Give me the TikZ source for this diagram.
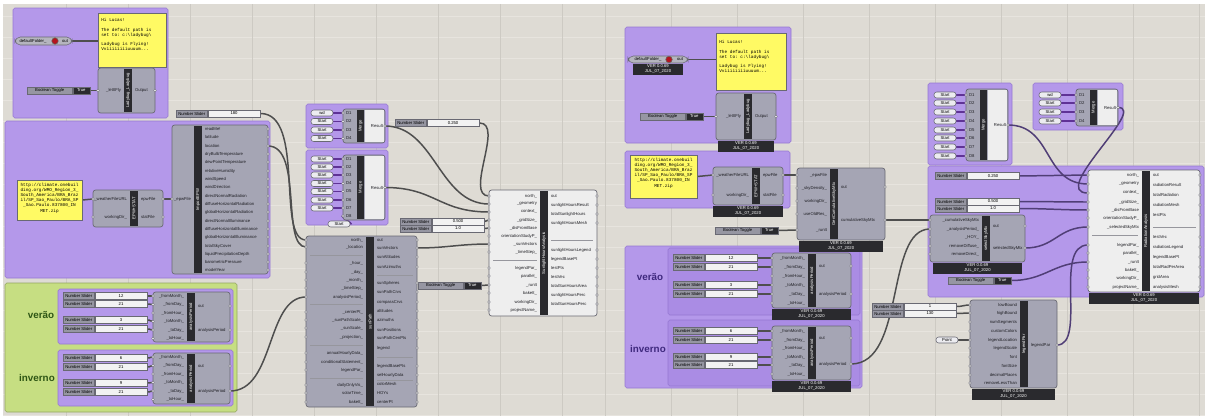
\documentclass[tikz,border=0pt]{standalone}
\usepackage{fontspec}
\setmainfont{Liberation Sans}
\setmonofont{Liberation Mono}
\usepackage{xcolor}
\definecolor{CanvasBg}{RGB}{222,219,212}
\definecolor{GridLine}{RGB}{205,202,195}
\definecolor{GridMinor}{RGB}{231,228,222}
\definecolor{GroupPurple}{RGB}{180,152,234}
\definecolor{GroupPurpleDeep}{RGB}{170,140,228}
\definecolor{GroupEdge}{RGB}{150,120,210}
\definecolor{GroupGreen}{RGB}{198,222,130}
\definecolor{CompGray}{RGB}{165,165,180}
\definecolor{CompEdge}{RGB}{105,105,115}
\definecolor{CompWhite}{RGB}{238,238,238}
\definecolor{BarBlack}{RGB}{42,42,46}
\definecolor{PanelYellow}{RGB}{255,250,100}
\definecolor{PanelWhite}{RGB}{236,236,240}
\definecolor{SliderGray}{RGB}{150,150,162}
\definecolor{SliderWhite}{RGB}{242,242,242}
\definecolor{TextDark}{RGB}{30,30,35}
\definecolor{WireGray}{RGB}{78,78,78}
\definecolor{WirePurple}{RGB}{95,50,150}
\definecolor{WireDark}{RGB}{80,62,118}
\definecolor{LabelGreen}{RGB}{45,85,20}
\definecolor{LabelPurple}{RGB}{62,40,125}
\definecolor{DotRed}{RGB}{180,20,30}
\usepackage{tikz}
\usetikzlibrary{positioning, fit, calc, backgrounds}
\pgfdeclarelayer{canvas}
\pgfdeclarelayer{wires}
\pgfsetlayers{canvas,wires,main}
\tikzset{
  % text size of the canvas
  tinyf/.style={font=\fontsize{2.4pt}{2.8pt}\selectfont},
  % groups
  grp/.style={fill=GroupPurple, draw=GroupEdge, line width=0.3pt, inner sep=0pt, rounded corners=1pt},
  grp deep/.style={grp, fill=GroupPurpleDeep},
  grp green/.style={grp, fill=GroupGreen, draw=GroupGreen!75!black},
  % components
  comp/.style={fill=CompGray, draw=CompEdge, line width=0.4pt, rounded corners=1.5pt, inner sep=0pt},
  comp white/.style={comp, fill=CompWhite},
  compbar/.style={fill=BarBlack, inner sep=0pt},
  bartext/.style={tinyf, text=white, rotate=90, inner sep=0pt},
  inlab/.style={tinyf, anchor=east, inner sep=0.4pt, text=TextDark},
  outlab/.style={tinyf, anchor=west, inner sep=0.4pt, text=TextDark},
  port/.style={draw=CompEdge, fill=white, line width=0.25pt},
  sepline/.style={draw=CompEdge!70, line width=0.3pt},
  % params
  sliderlab/.style={tinyf, fill=SliderGray, draw=CompEdge, line width=0.3pt, minimum width=0.62cm, minimum height=0.14cm, inner sep=0pt},
  sliderval/.style={tinyf, fill=SliderWhite, draw=CompEdge, line width=0.3pt, minimum width=1.05cm, minimum height=0.14cm, inner sep=0pt},
  togglelab/.style={sliderlab, minimum width=0.9cm},
  toggleval/.style={tinyf, fill=BarBlack, text=white, draw=CompEdge, line width=0.3pt, minimum width=0.34cm, minimum height=0.14cm, inner sep=0pt},
  minipanel/.style={tinyf, fill=PanelWhite, draw=CompEdge, line width=0.3pt, rounded corners=1.5pt, minimum width=0.44cm, minimum height=0.12cm, inner sep=0pt},
  ypanel/.style={fill=PanelYellow, draw=CompEdge, line width=0.4pt, inner sep=0pt},
  ptext/.style={font=\ttfamily\fontsize{2.5pt}{2.9pt}\selectfont, align=left, inner sep=0pt, anchor=north west},
  paramcap/.style={fill=SliderGray!70!white, draw=CompEdge, line width=0.3pt, rounded corners=3pt, inner sep=0pt},
  reddot/.style={circle, fill=DotRed, draw=black!60, line width=0.3pt, minimum size=0.13cm, inner sep=0pt},
  verstrip/.style={tinyf, fill=BarBlack, text=white, align=center, minimum height=0.22cm, inner sep=0.3pt},
  seasonlab/.style={font=\bfseries\fontsize{5.6pt}{6pt}\selectfont, inner sep=0pt},
  % wires
  wire/.style={draw=WireGray, line width=0.85pt},
  rwire/.style={draw=WireDark, line width=0.85pt},
  pwire/.style={draw=WirePurple, line width=0.9pt},
  gridmaj/.style={draw=GridLine, line width=0.35pt},
  gridmin/.style={draw=GridMinor, line width=0.3pt},
}
% slider: name, x, y, value
\newcommand{\ghslider}[4]{%
  \node[sliderlab, anchor=west] (#1-lab) at (#2,#3) {Number Slider};
  \node[sliderval, right=0pt of #1-lab] (#1) {#4};
}
% toggle: name, x, y
\newcommand{\ghtoggle}[3]{%
  \node[togglelab, anchor=west] (#1-lab) at (#2,#3) {Boolean Toggle};
  \node[toggleval, right=0pt of #1-lab] (#1) {True};
}
% component body: name, style, x1, y1, x2, y2, bar x, title
\newcommand{\ghcomp}[8]{%
  \node[#2, fit={(#3,#4) (#5,#6)}] (#1) {};
  \node[compbar, fit={(#7,#4+1) (#7+8,#6-1)}] (#1-bar) {};
  \node[bartext] (#1-title) at (#1-bar.center) {#8};
}
% inputs / outputs: name, port x, label x, list y/label
\newcommand{\ghins}[4]{%
  \foreach \yy/\lb [count=\kk] in {#4} {
    \node[inlab] (#1-il\kk) at (#3,\yy) {\lb};
    \coordinate (#1-i\kk) at (#2,\yy);
    \draw[port] (#1-i\kk) circle (0.028cm);
  }
}
\newcommand{\ghouts}[4]{%
  \foreach \yy/\lb [count=\kk] in {#4} {
    \node[outlab] (#1-ol\kk) at (#3,\yy) {\lb};
    \coordinate (#1-o\kk) at (#2,\yy);
    \draw[port] (#1-o\kk) circle (0.028cm);
  }
}
% merge: name, x1, y1, y2, rows
\newcommand{\ghmerge}[5]{%
  \node[comp, fit={(#2,#3) (#2+42,#4)}] (#1) {};
  \fill[CompWhite] (#2+22,#3+0.6) rectangle (#2+41.4,#4-0.6);
  \node[compbar, fit={(#2+14,#3+1) (#2+21,#4-1)}] (#1-bar) {};
  \node[bartext] (#1-title) at (#1-bar.center) {Merge};
  \foreach \yy [count=\kk] in {#5} {
    \node[outlab] (#1-il\kk) at (#2+2,\yy) {D\kk};
    \coordinate (#1-i\kk) at (#2,\yy);
    \draw[port] (#1-i\kk) circle (0.028cm);
  }
  \node[inlab] (#1-ol1) at (#2+41,{(#3+#4)/2}) {Result};
  \coordinate (#1-o1) at (#2+42,{(#3+#4)/2});
  \draw[port] (#1-o1) circle (0.028cm);
}
% version strip under a component
\newcommand{\ghver}[2]{%
  \node[verstrip, minimum width=#2, below=0pt of #1] (#1-ver) {VER 0.0.69\\JUL\_07\_2020};
}

\begin{document}
\begin{tikzpicture}[x=0.02cm, y=-0.02cm]
\useasboundingbox (0,0) rectangle (1205,416);

\begin{pgfonlayer}{canvas}
  \fill[CanvasBg] (0,0) rectangle (1205,416);
  \foreach \gy in {16,37,...,416} \draw[gridmin] (0,\gy) -- (1205,\gy);
  \foreach \gx in {66,128,...,600} \draw[gridmaj] (\gx,0) -- (\gx,416);
  \foreach \gx in {605,671,...,1205} \draw[gridmaj] (\gx,0) -- (\gx,416);
  \fill[white] (0,0) rectangle (1205,4);
  \fill[white] (0,0) rectangle (3,416);
  % groups, left
  \node[grp, fit={(13,8) (168,118)}] (grpLbA) {};
  \node[grp, fit={(5,121) (270,278)}] (grpEpwA) {};
  \node[grp green, fit={(5,283) (237,412)}] (grpSeasonA) {};
  \node[grp, fit={(58,289) (233,344)}] (grpVeraoA) {};
  \node[grp, fit={(58,350) (233,406)}] (grpInvernoA) {};
  \node[grp, fit={(306,104) (388,148)}] (grpMrgA) {};
  \node[grp, fit={(306,150) (388,225)}] (grpMrgB) {};
  % groups, right
  \node[grp, fit={(625,27) (791,143)}] (grpLbB) {};
  \node[grp, fit={(625,151) (790,208)}] (grpEpwB) {};
  \node[grp, fit={(625,246) (862,388)}] (grpSeasonB) {};
  \node[grp deep, fit={(668,248) (860,315)}] (grpVeraoB) {};
  \node[grp deep, fit={(668,320) (860,386)}] (grpInvernoB) {};
  \node[grp, fit={(928,83) (1012,165)}] (grpMrgC) {};
  \node[grp, fit={(1033,83) (1123,130)}] (grpMrgD) {};
  \node[grp, fit={(928,166) (1204,297)}] (grpRad) {};
\end{pgfonlayer}

% ================= left half =================
\node[paramcap, fit={(15,37) (72,45)}] (dfA) {};
\node[tinyf] (dfA-lab) at (33,41) {defaultFolder\_};
\node[reddot] (dfA-dot) at (55,41) {};
\node[tinyf] (dfA-out) at (65,41) {out};
\node[ypanel, fit={(98,13) (166,67)}] (hiA) {};
\node[ptext] (hiA-txt) at (101,18) {Hi Lucas!\\[2.5pt]The default path is\\set to: c:\textbackslash ladybug\textbackslash\\[2.5pt]Ladybug is Flying!\\Vviiiiiiiiuuuum...};
\ghtoggle{tgA}{27}{90.5}
\ghcomp{lbA}{comp}{98}{68}{155}{113}{124}{Ladybug\_Ladybug}
\ghins{lbA}{98}{122}{90.5/\_letItFly}
\ghouts{lbA}{155}{134}{90.5/Output}

\ghslider{slA1}{176}{113.5}{180}

\node[ypanel, fit={(17,180) (82,220)}] (urlA) {};
\node[ptext, align=center, anchor=north] (urlA-txt) at (49.5,183) {http://climate.onebuil\\ding.org/WMO\_Region\_3\_\\South\_America/BRA\_Braz\\il/SP\_Sao\_Paulo/BRA\_SP\\\_Sao.Paulo.837800\_IN\\MET.zip};
\ghcomp{epwA}{comp}{93}{190}{163}{227}{130}{EPW+STAT}
\ghins{epwA}{93}{128}{199/\_weatherFileURL, 217/workingDir\_}
\ghouts{epwA}{163}{140}{199/epwFile, 217/statFile}
\ghcomp{impA}{comp}{172}{125}{268}{274}{194}{ImportEPW}
\ghins{impA}{172}{192}{199/\_epwFile}
\ghouts{impA}{268}{204}{129/readMe!, 137/latitude, 146/location, 154/dryBulbTemperature, 162/dewPointTemperature, 171/relativeHumidity, 179/windSpeed, 187/windDirection, 196/directNormalRadiation, 204/diffuseHorizontalRadiation, 212/globalHorizontalRadiation, 221/directNormalIlluminance, 229/diffuseHorizontalIlluminance, 237/globalHorizontalIlluminance, 246/totalSkyCover, 254/liquidPrecipitationDepth, 262/barometricPressure, 270/modelYear}

% seasons, left
\node[seasonlab, text=LabelGreen] (lbVeraoA) at (41,315) {verão};
\node[seasonlab, text=LabelGreen] (lbInvernoA) at (37,378) {inverno};
\ghslider{svA1}{63}{296}{12}
\ghslider{svA2}{63}{304}{21}
\ghslider{svA3}{63}{320}{3}
\ghslider{svA4}{63}{329}{21}
\ghcomp{anpVA}{comp}{153}{292}{230}{342}{187}{analysisPeriod}
\ghins{anpVA}{153}{185}{296/\_fromMonth\_, 304.5/\_fromDay\_, 313/\_fromHour\_, 321.5/\_toMonth\_, 330/\_toDay\_, 338.5/\_toHour\_}
\ghouts{anpVA}{230}{197}{306/out, 330/analysisPeriod}
\ghslider{siA1}{63}{358}{6}
\ghslider{siA2}{63}{367}{21}
\ghslider{siA3}{63}{383}{9}
\ghslider{siA4}{63}{392}{21}
\ghcomp{anpIA}{comp}{153}{353}{230}{404}{187}{analysisPeriod}
\ghins{anpIA}{153}{185}{357/\_fromMonth\_, 365.5/\_fromDay\_, 374/\_fromHour\_, 382.5/\_toMonth\_, 391/\_toDay\_, 399.5/\_toHour\_}
\ghouts{anpIA}{230}{197}{366/out, 391/analysisPeriod}

% merges, left
\foreach \yy/\lb [count=\kk] in {113/wd, 121.5/Start, 130/Start, 138.5/Start}
  \node[minipanel] (pnA\kk) at (322,\yy) {\lb};
\ghmerge{mrgA}{343}{109}{143}{113,121.5,130,138.5}
\foreach \yy [count=\kk] in {159,167,175,183.5,191.5,200,208}
  \node[minipanel] (pnB\kk) at (322,\yy) {Start};
\node[minipanel] (pnB8) at (339,224) {Start};
\ghmerge{mrgB}{343}{155}{220}{159,167,175,183.5,191.5,200,208,216}

\ghslider{slA2}{395}{123}{0.250}
\ghslider{slA3}{400}{221.5}{0.500}
\ghslider{slA4}{400}{228.5}{1.0}
\ghtoggle{tgA2}{418}{285.5}

\ghcomp{spA}{comp}{306}{236}{417}{407}{366}{sunPath}
\ghins{spA}{306}{364}{240/north\_, 247/\_location, 263/\_hour\_, 272/\_day\_, 280/\_month\_, 288/\_timeStep\_, 297/analysisPeriod\_, 312/\_centerPt\_, 320/\_sunPathScale\_, 328/\_sunScale\_, 337/\_projection\_, 353/annualHourlyData\_, 362/conditionalStatement\_, 370/legendPar\_, 385/dailyOnlyVis\_, 393/solarTime\_, 402/bakeIt\_}
\ghouts{spA}{417}{376}{240/out, 248/sunVectors, 257/sunAltitudes, 267/sunAzimuths, 283/sunSpheres, 292/sunPathCrvs, 302/compassCrvs, 311/altitudes, 320/azimuths, 330/sunPositions, 338/sunPathCenPts, 348/legend, 366/legendBasePts, 375/selHourlyData, 384/colorMesh, 393/HOYs, 402/centerPt}
\foreach \yy in {255,304,345,378} \draw[sepline] (310,\yy) -- (363,\yy);
\foreach \yy in {275,357,380} \draw[sepline] (377,\yy) -- (413,\yy);

\ghcomp{shA}{comp white}{489}{190}{597}{316}{540}{SunlightHoursAnalysis}
\ghins{shA}{489}{538}{196/north\_, 204/\_geometry, 212/context\_, 220/\_gridSize\_, 228/\_disFromBase, 236/orientationStudyP\_, 244/\_sunVectors, 252/\_timeStep\_, 268/legendPar\_, 276/parallel\_, 285/\_runIt, 293/bakeIt\_, 302/workingDir\_, 310/projectName\_}
\ghouts{shA}{597}{550}{196/out, 205/sunlightHoursResult, 214/totalSunlightHours, 223/sunlightHoursMesh, 250/sunlightHoursLegend, 259/legendBasePt, 268/testPts, 277/testVec, 286/totalSunHoursArea, 295/sunlightHoursPerc, 304/totalSunHoursPerc}
\draw[sepline] (493,260) -- (537,260);
\draw[sepline] (551,240) -- (593,240);

% ================= right half =================
\node[paramcap, fit={(628,56) (688,63)}] (dfB) {};
\node[tinyf] (dfB-lab) at (648,59.5) {defaultFolder\_};
\node[reddot] (dfB-dot) at (669,59.5) {};
\node[tinyf] (dfB-out) at (680,59.5) {out};
\ghver{dfB}{1.0cm}
\node[ypanel, fit={(716,33) (786,90)}] (hiB) {};
\node[ptext] (hiB-txt) at (719,40) {Hi Lucas!\\[2.5pt]The default path is\\set to: c:\textbackslash ladybug\textbackslash\\[2.5pt]Ladybug is Flying!\\Vviiiiiiiiuuuum...};
\ghtoggle{tgB}{640}{116.5}
\ghcomp{lbB}{comp}{716}{93}{776}{140}{744}{Ladybug\_Ladybug}
\ghins{lbB}{716}{742}{116.5/\_letItFly}
\ghouts{lbB}{776}{754}{116.5/Output}
\ghver{lbB}{1.12cm}

\node[ypanel, fit={(630,155) (697,198)}] (urlB) {};
\node[ptext, align=center, anchor=north] (urlB-txt) at (663.5,158) {http://climate.onebuil\\ding.org/WMO\_Region\_3\_\\South\_America/BRA\_Braz\\il/SP\_Sao\_Paulo/BRA\_SP\\\_Sao.Paulo.837800\_IN\\MET.zip};
\ghcomp{epwB}{comp}{713}{167}{783}{205}{752}{EPW+STAT}
\ghins{epwB}{713}{750}{175/\_weatherFileURL, 195/workingDir\_}
\ghouts{epwB}{783}{762}{175/epwFile, 195/statFile}
\ghver{epwB}{1.4cm}

\ghcomp{gcs}{comp}{797}{168}{885}{240}{830}{GenCumulativeSkyMtx}
\ghins{gcs}{797}{828}{175/\_epwFile, 188/\_skyDensity\_, 201/workingDir\_, 214/useOldRes\_, 230/\_runIt}
\ghouts{gcs}{885}{840}{187/out, 220/cumulativeSkyMtx}
\ghver{gcs}{1.7cm}
\ghtoggle{tgC}{715}{230.5}

% seasons, right
\node[seasonlab, text=LabelPurple] (lbVeraoB) at (650,277) {verão};
\node[seasonlab, text=LabelPurple] (lbInvernoB) at (648,349) {inverno};
\ghslider{svB1}{673}{258}{12}
\ghslider{svB2}{673}{267}{21}
\ghslider{svB3}{673}{285}{3}
\ghslider{svB4}{673}{294}{21}
\ghcomp{anpVB}{comp}{772}{253}{851}{308}{808}{analysisPeriod}
\ghins{anpVB}{772}{806}{258/\_fromMonth\_, 267/\_fromDay\_, 276/\_fromHour\_, 285/\_toMonth\_, 294/\_toDay\_, 303/\_toHour\_}
\ghouts{anpVB}{851}{818}{266/out, 294/analysisPeriod}
\ghver{anpVB}{1.58cm}
\ghslider{siB1}{673}{331}{6}
\ghslider{siB2}{673}{340}{21}
\ghslider{siB3}{673}{357}{9}
\ghslider{siB4}{673}{365}{21}
\ghcomp{anpIB}{comp}{772}{326}{851}{380}{808}{analysisPeriod}
\ghins{anpIB}{772}{806}{331/\_fromMonth\_, 340/\_fromDay\_, 348/\_fromHour\_, 357/\_toMonth\_, 365/\_toDay\_, 374/\_toHour\_}
\ghouts{anpIB}{851}{818}{338/out, 364/analysisPeriod}
\ghver{anpIB}{1.58cm}

% merges, right
\foreach \yy [count=\kk] in {95,103,112,121,130,138,147,156}
  \node[minipanel] (pnC\kk) at (945,\yy) {Start};
\ghmerge{mrgC}{966}{89}{161}{95,103,112,121,130,138,147,156}
\foreach \yy/\lb [count=\kk] in {95/wd, 103/Start, 112/Start, 121/Start}
  \node[minipanel] (pnD\kk) at (1050,\yy) {\lb};
\ghmerge{mrgD}{1076}{89}{126}{95,103,112,121}

% radiation, right
\ghslider{slB1}{935}{176}{0.250}
\ghslider{slB2}{935}{201.5}{0.500}
\ghslider{slB3}{935}{208.5}{1.0}
\ghcomp{sel}{comp}{930}{215}{1025}{262}{982}{selectSkyMtx}
\ghins{sel}{930}{980}{220/\_cumulativeSkyMtx, 229/\_analysisPeriod\_, 237/\_HOY\_, 246/removeDiffuse\_, 254/removeDirect\_}
\ghouts{sel}{1025}{992}{226/out, 248/selectedSkyMtx}
\ghver{sel}{1.78cm}
\ghtoggle{tgD}{948}{280.5}

\ghcomp{rad}{comp white}{1088}{170}{1200}{292}{1142}{RadiationAnalysis}
\ghins{rad}{1088}{1140}{175/north\_, 184/\_geometry, 193/context\_, 202/\_gridSize\_, 210/\_disFromBase, 218/orientationStudyP\_, 227/\_selectedSkyMtx, 245/legendPar\_, 253/parallel\_, 262/\_runIt, 270/bakeIt\_, 278/workingDir\_, 287/projectName\_}
\ghouts{rad}{1200}{1152}{175/out, 185/radiationResult, 195/totalRadiation, 205/radiationMesh, 215/testPts, 237/testVec, 247/radiationLegend, 257/legendBasePt, 267/totalRadPerArea, 277/gridArea, 287/analysisMesh}
\draw[sepline] (1092,235) -- (1138,235);
\draw[sepline] (1153,227) -- (1196,227);
\ghver{rad}{2.2cm}

\ghslider{slB4}{872}{306.5}{1}
\ghslider{slB5}{872}{313.5}{130}
\node[minipanel] (ptB) at (947,340) {Point};
\ghcomp{lgp}{comp}{970}{300}{1057}{388}{1020}{legendPar}
\ghins{lgp}{970}{1018}{305/lowBound, 313/highBound, 322/numSegments, 331/customColors, 340/legendLocation, 348/legendScale, 357/font, 366/fontSize, 375/decimalPlaces, 383/removeLessThan}
\ghouts{lgp}{1057}{1030}{345/legendPar}
\ghver{lgp}{1.65cm}

% ================= wires =================
\begin{pgfonlayer}{wires}
  % left
  \draw[wire] (dfA.east) -- (dfA.east -| hiA.west);
  \draw[wire] (tgA.east) .. controls +(6,0) and +(-6,0) .. (lbA-i1);
  \draw[wire] (urlA.east) .. controls +(6,0) and +(-6,0) .. (epwA-i1);
  \draw[wire] (epwA-o1) -- (impA-i1);
  \draw[wire] (slA1.east) .. controls +(45,0) and +(-30,0) .. (spA-i1);
  \draw[wire] (impA-o3) .. controls +(35,0) and +(-25,0) .. (spA-i2);
  \draw[wire] (anpIA-o2) .. controls +(45,0) and +(-40,0) .. (spA-i7);
  \foreach \s/\t in {svA1/1, svA2/2, svA3/4, svA4/5}
    \draw[wire] (\s.east) .. controls +(4,0) and +(-4,0) .. (anpVA-i\t);
  \foreach \s/\t in {siA1/1, siA2/2, siA3/4, siA4/5}
    \draw[wire] (\s.east) .. controls +(4,0) and +(-4,0) .. (anpIA-i\t);
  \foreach \kk in {1,...,4}
    \draw[pwire] (pnA\kk.east) -- (mrgA-i\kk);
  \foreach \kk in {1,...,8}
    \draw[pwire] (pnB\kk.east) .. controls +(4,0) and +(-4,0) .. (mrgB-i\kk);
  \draw[wire] (slA2.east) .. controls +(25,0) and +(-25,0) .. (shA-i1);
  \draw[wire] (mrgA-o1) .. controls +(50,0) and +(-50,0) .. (shA-i2);
  \draw[wire] (mrgB-o1) .. controls +(50,0) and +(-50,0) .. (shA-i3);
  \draw[wire] (slA3.east) .. controls +(3,0) and +(-3,0) .. (shA-i4);
  \draw[wire] (slA4.east) .. controls +(3,0) and +(-3,0) .. (shA-i5);
  \draw[wire] (spA-o2) .. controls +(30,0) and +(-30,0) .. (shA-i7);
  \draw[wire] (tgA2.east) -- (shA-i11);
  % right
  \draw[wire] (dfB.east) -- (dfB.east -| hiB.west);
  \draw[wire] (tgB.east) .. controls +(6,0) and +(-6,0) .. (lbB-i1);
  \draw[wire] (urlB.east) .. controls +(8,0) and +(-8,0) .. (epwB-i1);
  \draw[wire] (epwB-o1) -- (gcs-i1);
  \draw[wire] (tgC.east) .. controls +(8,0) and +(-8,0) .. (gcs-i5);
  \draw[wire] (gcs-o2) -- (sel-i1);
  \draw[wire] (anpIB-o2) .. controls +(55,0) and +(-45,0) .. (sel-i2);
  \foreach \s/\t in {svB1/1, svB2/2, svB3/4, svB4/5}
    \draw[wire] (\s.east) .. controls +(6,0) and +(-6,0) .. (anpVB-i\t);
  \foreach \s/\t in {siB1/1, siB2/2, siB3/4, siB4/5}
    \draw[wire] (\s.east) .. controls +(6,0) and +(-6,0) .. (anpIB-i\t);
  \foreach \kk in {1,...,8}
    \draw[pwire] (pnC\kk.east) -- (mrgC-i\kk);
  \foreach \kk in {1,...,4}
    \draw[pwire] (pnD\kk.east) -- (mrgD-i\kk);
  \draw[rwire] (slB1.east) -- (rad-i1);
  \draw[rwire] (mrgC-o1) .. controls +(45,0) and +(-45,0) .. (rad-i2);
  \draw[rwire] (mrgD-o1) .. controls +(30,0) and +(-40,0) .. (rad-i3);
  \draw[rwire] (slB2.east) .. controls +(25,0) and +(-25,0) .. (rad-i4);
  \draw[rwire] (slB3.east) .. controls +(25,0) and +(-25,0) .. (rad-i5);
  \draw[rwire] (sel-o2) .. controls +(30,0) and +(-30,0) .. (rad-i7);
  \draw[rwire] (lgp-o1) .. controls +(30,0) and +(-35,0) .. (rad-i8);
  \draw[rwire] (tgD.east) .. controls +(35,0) and +(-35,0) .. (rad-i10);
  \draw[wire] (slB4.east) .. controls +(6,0) and +(-6,0) .. (lgp-i1);
  \draw[wire] (slB5.east) .. controls +(6,0) and +(-6,0) .. (lgp-i2);
  \draw[wire] (ptB.east) -- (lgp-i5);
\end{pgfonlayer}
\end{tikzpicture}
\end{document}
